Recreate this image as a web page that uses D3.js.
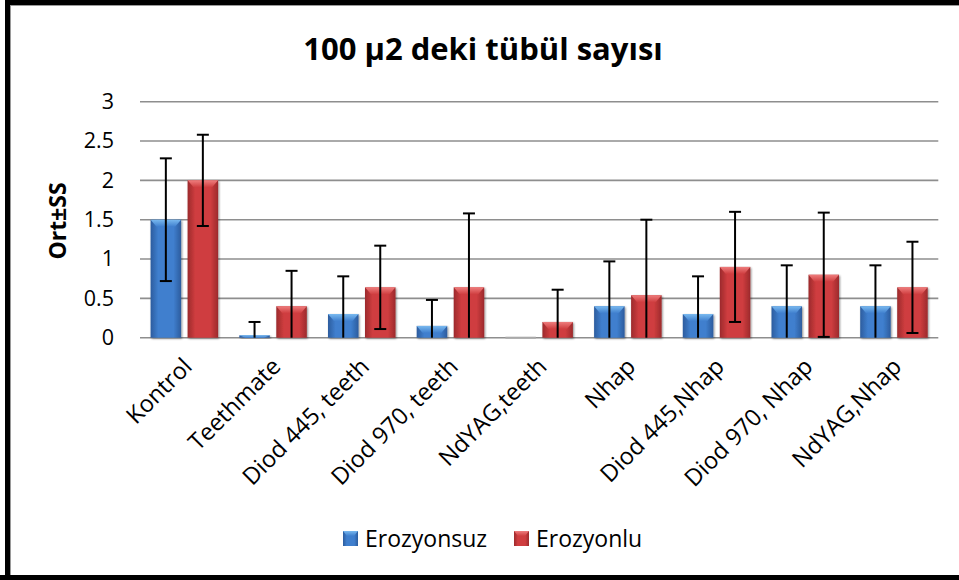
<!DOCTYPE html>
<html>
<head>
<meta charset="utf-8">
<script src="https://cdn.jsdelivr.net/npm/d3@7"></script>
<style>
  html, body { margin: 0; padding: 0; background: #fff; }
  svg { display: block; font-family: "Open Sans", Lato, sans-serif; }
</style>
</head>
<body>
<svg id="chart" width="959" height="580"></svg>
<script>
// Groups and mean ± SD values for the two series
const categories = ["Kontrol", "Teethmate", "Diod 445, teeth", "Diod 970, teeth", "NdYAG,teeth",
                    "Nhap", "Diod 445,Nhap", "Diod 970, Nhap", "NdYAG,Nhap"];
const seriesNames = ["Erozyonsuz", "Erozyonlu"];
const meanErozyonsuz = [1.5, 0.03, 0.30, 0.15, 0.0, 0.40, 0.30, 0.40, 0.40];
const sdErozyonsuz   = [0.78, 0.17, 0.48, 0.33, 0.0, 0.57, 0.48, 0.52, 0.52];
const meanErozyonlu  = [2.0, 0.40, 0.64, 0.64, 0.20, 0.54, 0.90, 0.80, 0.64];
const sdErozyonlu    = [0.58, 0.45, 0.53, 0.94, 0.41, 0.96, 0.70, 0.79, 0.58];
const yTicks = [0, 0.5, 1, 1.5, 2, 2.5, 3];
const titleText = "100 µ2 deki tübül sayısı";
const yTitle = "Ort±SS";

const rows = categories.map((c, i) => ({
  category: c,
  values: [
    { series: seriesNames[0], mean: meanErozyonsuz[i], sd: sdErozyonsuz[i] },
    { series: seriesNames[1], mean: meanErozyonlu[i],  sd: sdErozyonlu[i] }
  ]
}));

const svg = d3.select("#chart");
const W = 959, H = 580;

// Frame: heavy black edges on top, left and bottom
svg.append("rect").attr("x", 0).attr("y", 0).attr("width", W).attr("height", H).attr("fill", "#fff");
svg.append("rect").attr("x", 5).attr("y", 0).attr("width", W - 5).attr("height", 5).attr("fill", "#000");
svg.append("rect").attr("x", 5).attr("y", 0).attr("width", 5).attr("height", H).attr("fill", "#000");
svg.append("rect").attr("x", 0).attr("y", 575).attr("width", W).attr("height", 5).attr("fill", "#000");
svg.append("line").attr("x1", 10).attr("x2", W).attr("y1", 5.5).attr("y2", 5.5).attr("stroke", "#9a9a9a").attr("stroke-width", 1);
svg.append("line").attr("x1", 10.5).attr("x2", 10.5).attr("y1", 5).attr("y2", 575).attr("stroke", "#9a9a9a").attr("stroke-width", 1);

// Gradients for the bevelled bars
const defs = svg.append("defs");
const palette = {
  Erozyonsuz: { edge: "#2c5c9e", mid: "#3f7fce", light: "#79b9ef" },
  Erozyonlu:  { edge: "#9c2a2c", mid: "#cf3d3f", light: "#ee7d7d" }
};
Object.entries(palette).forEach(([name, c], k) => {
  const g = defs.append("linearGradient").attr("id", "body" + k).attr("x1", "0%").attr("x2", "100%");
  g.append("stop").attr("offset", "0%").attr("stop-color", c.edge);
  g.append("stop").attr("offset", "25%").attr("stop-color", c.mid);
  g.append("stop").attr("offset", "75%").attr("stop-color", c.mid);
  g.append("stop").attr("offset", "100%").attr("stop-color", c.edge);
  const t = defs.append("linearGradient").attr("id", "top" + k).attr("x1", "0%").attr("x2", "0%").attr("y1", "0%").attr("y2", "100%");
  t.append("stop").attr("offset", "0%").attr("stop-color", c.light);
  t.append("stop").attr("offset", "100%").attr("stop-color", c.mid);
});
const shadow = defs.append("filter").attr("id", "shadow").attr("x", "-20%").attr("y", "-20%").attr("width", "140%").attr("height", "140%");
shadow.append("feGaussianBlur").attr("in", "SourceAlpha").attr("stdDeviation", 1.2).attr("result", "b");
shadow.append("feOffset").attr("in", "b").attr("dx", 1).attr("dy", 1).attr("result", "o");
shadow.append("feComponentTransfer").attr("in", "o").attr("result", "s")
  .append("feFuncA").attr("type", "linear").attr("slope", 0.45);
const merge = shadow.append("feMerge");
merge.append("feMergeNode").attr("in", "s");
merge.append("feMergeNode").attr("in", "SourceGraphic");

// Scales
const plotLeft = 140, plotRight = 938.3;
const y = d3.scaleLinear().domain([0, 3]).range([337.7, 101.7]);
const x0 = d3.scaleBand().domain(categories)
  .range([plotLeft, plotRight]).paddingInner(0.239).paddingOuter(0.1195);
const x1 = d3.scaleBand().domain(seriesNames).range([0, x0.bandwidth()]).paddingInner(0.176);

// Horizontal gridlines and axis line
svg.append("g").selectAll("line").data(yTicks).join("line")
  .attr("x1", plotLeft).attr("x2", plotRight)
  .attr("y1", d => y(d)).attr("y2", d => y(d))
  .attr("stroke", "#8e8e8e").attr("stroke-width", 1.6);

// Y axis labels via d3.axisLeft (ticks only, no domain line)
const yAxis = svg.append("g").attr("transform", "translate(123,0)")
  .call(d3.axisLeft(y).tickValues(yTicks).tickSize(0).tickPadding(9).tickFormat(d3.format("")));
yAxis.select(".domain").remove();
yAxis.selectAll("text").attr("font-size", 21.5).attr("fill", "#000").attr("font-family", "'Open Sans', sans-serif");

// Y axis title
svg.append("text")
  .attr("transform", "translate(66,221) rotate(-90)")
  .attr("text-anchor", "middle")
  .attr("font-size", 23).attr("font-weight", "bold").attr("fill", "#000")
  .text(yTitle);

// Title
svg.append("text")
  .attr("x", 483).attr("y", 60)
  .attr("text-anchor", "middle")
  .attr("font-size", 31).attr("font-weight", "bold").attr("fill", "#000")
  .text(titleText);

// Bars
const groups = svg.append("g").selectAll("g").data(rows).join("g")
  .attr("transform", d => `translate(${x0(d.category)},0)`);

const bar = groups.selectAll("g.bar").data(d => d.values).join("g").attr("class", "bar");
bar.each(function (d) {
  const g = d3.select(this);
  const k = seriesNames.indexOf(d.series);
  const bx = x1(d.series), bw = x1.bandwidth();
  const top = y(d.mean), base = y(0);
  const h = base - top;
  if (h < 1) {
    g.append("rect").attr("x", bx).attr("y", base - 1).attr("width", bw).attr("height", 2)
      .attr("fill", "#a9a9a9");
    return;
  }
  g.append("rect").attr("x", bx).attr("y", top).attr("width", bw).attr("height", h)
    .attr("fill", `url(#body${k})`).attr("filter", "url(#shadow)");
  const bh = Math.min(7, h);
  const inset = Math.min(6, bw / 2);
  g.append("path")
    .attr("d", `M${bx},${top}L${bx + bw},${top}L${bx + bw - inset},${top + bh}L${bx + inset},${top + bh}Z`)
    .attr("fill", `url(#top${k})`);
});

// Error bars (mean ± SD, limited to the axis range)
const err = groups.selectAll("g.err").data(d => d.values.filter(v => v.sd > 0)).join("g").attr("class", "err");
err.each(function (d) {
  const g = d3.select(this);
  const cx = x1(d.series) + x1.bandwidth() / 2;
  const hi = Math.min(3, d.mean + d.sd), lo = Math.max(0, d.mean - d.sd);
  g.append("line").attr("x1", cx).attr("x2", cx).attr("y1", y(hi)).attr("y2", y(lo))
    .attr("stroke", "#000").attr("stroke-width", 2);
  g.append("line").attr("x1", cx - 6).attr("x2", cx + 6).attr("y1", y(hi)).attr("y2", y(hi))
    .attr("stroke", "#000").attr("stroke-width", 2);
  if (d.mean - d.sd >= 0) {
    g.append("line").attr("x1", cx - 6).attr("x2", cx + 6).attr("y1", y(lo)).attr("y2", y(lo))
      .attr("stroke", "#000").attr("stroke-width", 2);
  }
});

// Category labels, rotated
svg.append("g").selectAll("text").data(categories).join("text")
  .attr("transform", d => `translate(${x0(d) + x0.bandwidth() / 2 + 9},368) rotate(-45)`)
  .attr("text-anchor", "end")
  .attr("font-size", 23.5).attr("fill", "#000")
  .text(d => d);

// Legend
const legend = svg.append("g");
const legendX = [343, 514];
seriesNames.forEach((s, k) => {
  legend.append("rect").attr("x", legendX[k]).attr("y", 531).attr("width", 15).attr("height", 15)
    .attr("fill", `url(#body${k})`);
  legend.append("path")
    .attr("d", `M${legendX[k]},531L${legendX[k] + 15},531L${legendX[k] + 11},536L${legendX[k] + 4},536Z`)
    .attr("fill", `url(#top${k})`);
  legend.append("text").attr("x", legendX[k] + 22).attr("y", 547)
    .attr("font-size", 23).attr("fill", "#000").text(s);
});
</script>
</body>
</html>
